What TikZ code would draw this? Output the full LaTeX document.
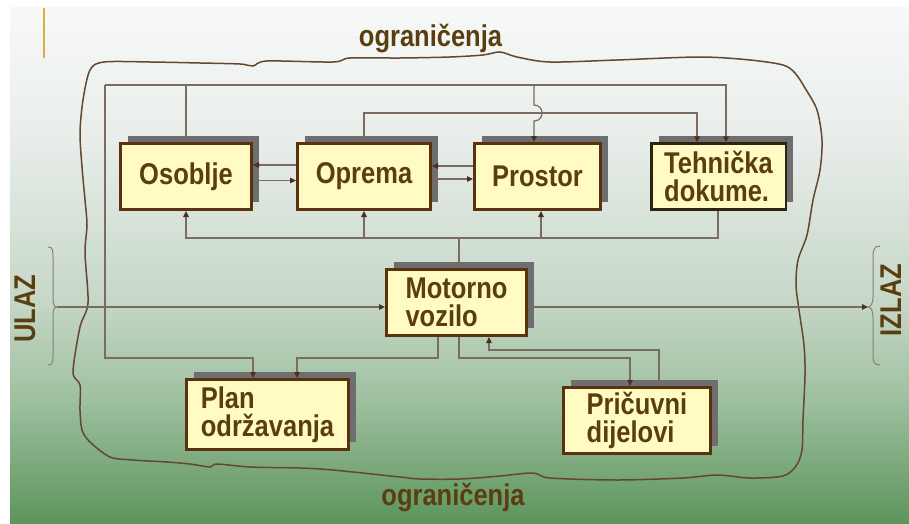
\documentclass[tikz,border=0pt]{standalone}
\usepackage{fontspec}
\newfontfamily\lbl{Liberation Sans}[FakeStretch=0.85]
\usetikzlibrary{arrows.meta,shadows}
\definecolor{txtc}{HTML}{5A3E10}
\definecolor{boxfill}{HTML}{FFFBC2}
\definecolor{boxline}{HTML}{5A3210}
\definecolor{tehline}{HTML}{2E2210}
\definecolor{shadowc}{HTML}{6E6E70}
\definecolor{linec}{HTML}{7A6C60}
\definecolor{arrc}{HTML}{4A3020}
\definecolor{borderc}{HTML}{654630}
\definecolor{bracec}{HTML}{8A7E76}
\definecolor{goldc}{HTML}{D6B23A}
\definecolor{bgA}{HTML}{F7F9F8}
\definecolor{bgB}{HTML}{E8EDEA}
\definecolor{bgC}{HTML}{C6D7C7}
\definecolor{bgD}{HTML}{9EC09F}
\definecolor{bgE}{HTML}{5C945C}
\begin{document}
\begin{tikzpicture}[x=1pt,y=-1pt,
  lbltext/.style={font=\lbl\bfseries\fontsize{30}{28}\selectfont, text=txtc, inner sep=0pt},
  boxnode/.style={lbltext, draw=boxline, line width=3pt, fill=boxfill, align=left,
    minimum height=66pt,
    general shadow={fill=shadowc, draw=none, shadow xshift=7.5pt, shadow yshift=8pt}},
  conn/.style={draw=linec, line width=1.2pt},
  arr/.style={-{Triangle[length=6pt,width=5.5pt,color=arrc]}},
  bracestyle/.style={draw=bracec, line width=1pt},
  ]
\useasboundingbox (0,0) rectangle (909,524);
\fill[white] (0,0) rectangle (909,524);
\shade[top color=bgA,bottom color=bgB] (10,8) rectangle (909,140.5);
\shade[top color=bgB,bottom color=bgC] (10,140) rectangle (909,300.5);
\shade[top color=bgC,bottom color=bgD] (10,300) rectangle (909,400.5);
\shade[top color=bgD,bottom color=bgE] (10,400) rectangle (909,524);
\draw[goldc, line width=2.5pt] (44,8) -- (44,58);

% wavy boundary
\draw[borderc, line width=1.5pt] plot[smooth cycle, tension=0.5] coordinates {
(83,100) (90,70) (104,62) (150,62) (200,63) (240,64) (253,66) (267,61) (333,62)
(350,58) (400,58) (450,57) (483,55) (500,52) (517,57) (550,62) (617,60) (700,57)
(750,60) (783,65) (795,73) (805,88) (817,110) (822,140) (820,170) (813,200)
(807,235) (798,260) (796,285) (799,310) (804,345) (805,375) (803,420) (802,450)
(796,466) (783,476) (750,478) (717,475) (683,478) (617,480) (550,478) (533,473)
(500,476) (460,479) (420,479) (400,477) (333,470) (300,468) (250,467) (217,464)
(210,467) (190,464) (167,462) (133,460) (110,457) (90,442) (82,430) (80,410)
(80,385) (73,372) (80,327) (88,303) (85,253) (87,225) (85,200) (82,167) (80,133)};

% texts
\node[lbltext, anchor=base] (ogtop) at (430.5,47) {ograničenja};
\node[lbltext, anchor=base] (ogbot) at (453,505) {ograničenja};
\node[lbltext, rotate=90, anchor=base] (ulazt) at (35,308.5) {ULAZ};
\node[lbltext, rotate=90, anchor=base] (izlazt) at (901,300) {IZLAZ};

% boxes
\node[boxnode, minimum width=131pt] (osoblje) at (186,176.5) {Osoblje};
\node[boxnode, minimum width=133pt] (oprema) at (364,176.5) {Oprema};
\node[boxnode, minimum width=126pt] (prostor) at (537.5,176.5) {Prostor};
\node[boxnode, draw=tehline, line width=2.5pt, minimum width=134.5pt] (tehnicka) at (718.5,176.5) {Tehnička\\dokume.};
\node[boxnode, minimum width=140pt] (motorno) at (456.5,302.5) {Motorno\\vozilo};
\node[boxnode, minimum width=162pt, minimum height=70pt] (plan) at (267.5,414.5) {Plan\\održavanja};
\node[boxnode, minimum width=147pt] (pricuvni) at (637,420.5) {Pričuvni\\dijelovi};

% braces
\coordinate (ulaz) at (57,307);
\coordinate (izlaz) at (868,307);
\draw[bracestyle] (48,247) .. controls (53,247) and (53,250) .. (53,258) -- (53,298)
  .. controls (53,304) and (54,307) .. (ulaz) .. controls (54,307) and (53,310) .. (53,316)
  -- (53,356) .. controls (53,363) and (52,365) .. (48,365);
\draw[bracestyle] (880,246) .. controls (874,246) and (873,250) .. (873,258) -- (873,297)
  .. controls (873,303) and (871,307) .. (izlaz) .. controls (871,307) and (873,311) .. (873,317)
  -- (873,355) .. controls (873,362) and (874,365) .. (880,365);

% top bus A
\coordinate (tA1) at (105,85);
\coordinate (tA2) at (726,85);
\coordinate (pl1) at (253,358);
\coordinate (pj) at (534,85);
\draw[conn] (osoblje.north) -- (osoblje.north |- tA1);
\draw[conn,arr] (tA1) |- (pl1) -- (plan.north -| pl1);
\draw[conn,arr] (tA1) -| (tehnicka.north -| tA2);
\draw[conn,arr] (pj) -- ++(0,20) .. controls +(10.7,0) and +(10.7,0) .. ++(0,16) -- (prostor.north -| pj);

% line B
\coordinate (tB) at (697,113);
\draw[conn,arr] (oprema.north) |- (tB) -- (tehnicka.north -| tB);

% horizontal pairs
\coordinate (h1) at ([yshift=11.5pt]oprema.west);
\coordinate (h2) at ([yshift=-4pt]osoblje.east);
\coordinate (h3) at ([yshift=10.5pt]prostor.west);
\coordinate (h4) at ([yshift=-2.5pt]oprema.east);
\draw[conn,arr] (h1) -- (h1 -| osoblje.east);
\draw[conn,arr] (h2) -- (h2 -| oprema.west);
\draw[conn,arr] (h3) -- (h3 -| oprema.east);
\draw[conn,arr] (h4) -- (h4 -| prostor.west);

% bottom bus C
\coordinate (bC) at (718,238);
\coordinate (pb) at (541,238);
\coordinate (mt) at (459,238);
\draw[conn,arr] (tehnicka.south -| bC) -- (bC) -| (osoblje.south);
\draw[conn,arr] (oprema.south |- bC) -- (oprema.south);
\draw[conn,arr] (pb) -- (prostor.south -| pb);
\draw[conn] (motorno.north -| mt) -- (mt);

% motorno bottom
\coordinate (mb1) at (438,358);
\coordinate (pl2) at (297,358);
\coordinate (pr1) at (630,358);
\coordinate (pr2) at (659,350);
\coordinate (mb2) at (489,350);
\draw[conn,arr] (motorno.south -| mb1) |- (pl2) -- (plan.north -| pl2);
\draw[conn,arr] (motorno.south -| mt) |- (pr1) -- (pricuvni.north -| pr1);
\draw[conn,arr] (pricuvni.north -| pr2) -- (pr2) -- (mb2) -- (motorno.south -| mb2);

% ulaz / izlaz
\draw[conn,arr] (ulaz) -- (ulaz -| motorno.west);
\draw[conn,arr] (motorno.east |- izlaz) -- (izlaz);
\end{tikzpicture}
\end{document}
